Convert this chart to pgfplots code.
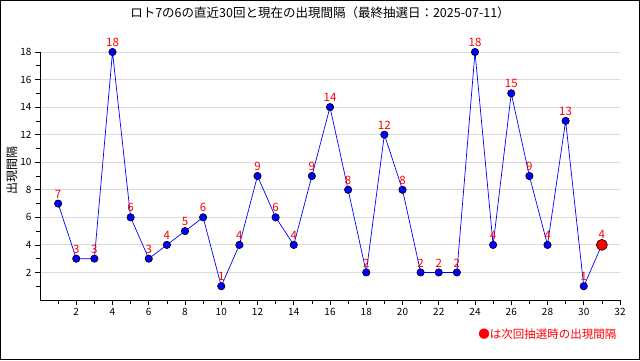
\documentclass[border=0pt]{standalone}
\usepackage{fontspec}
\setmainfont{Noto Sans CJK JP}
\usepackage{pgfplots}
\pgfplotsset{compat=1.18}
\begin{document}
\begin{tikzpicture}[x=1pt,y=1pt]
\useasboundingbox (0,0) rectangle (640,360);
\draw[line width=1pt] (0.5,0.5) rectangle (639.5,359.5);
\node[font=\fontsize{12.5}{14}\selectfont] at (320,347) {ロト7の6の直近30回と現在の出現間隔（最終抽選日：2025-07-11）};
\node[rotate=90,font=\fontsize{12}{13}\selectfont] at (12,190) {出現間隔};
\node[anchor=east,text=red,font=\fontsize{11.5}{13}\selectfont] at (620,26) {●は次回抽選時の出現間隔};
\begin{axis}[
  at={(40pt,60pt)}, anchor=south west,
  scale only axis, width=580pt, height=248pt,
  xmin=0, xmax=32, ymin=0, ymax=18,
  axis lines=left, axis line style={-, black, line width=0.8pt},
  xtick={2,4,...,32}, minor xtick={1,3,...,31},
  ytick={2,4,...,18}, minor ytick={1,3,...,17},
  x tick style={black, line width=0.6pt}, y tick style={black, line width=0.6pt},
  xtick align=outside, ytick align=outside,
  major tick length=5pt, minor tick length=4pt,
  ymajorgrids, major grid style={color=black!14, line width=0.8pt},
  tick label style={font=\fontsize{10}{12}\selectfont},
  /pgf/number format/assume math mode=true,
  clip=false,
]
\addplot[blue, line width=0.7pt, mark=*, mark size=3.7pt,
  mark options={fill=blue, draw=black, line width=0.6pt},
  nodes near coords, point meta=explicit symbolic,
  every node near coord/.style={text=red, font=\fontsize{11.5}{12}\selectfont, anchor=south, inner sep=0pt, yshift=5pt}]
coordinates {
(1,7)[7] (2,3)[3] (3,3)[3] (4,18)[18] (5,6)[6] (6,3)[3] (7,4)[4] (8,5)[5] (9,6)[6] (10,1)[1]
(11,4)[4] (12,9)[9] (13,6)[6] (14,4)[4] (15,9)[9] (16,14)[14] (17,8)[8] (18,2)[2] (19,12)[12] (20,8)[8]
(21,2)[2] (22,2)[2] (23,2)[2] (24,18)[18] (25,4)[4] (26,15)[15] (27,9)[9] (28,4)[4] (29,13)[13] (30,1)[1]
(31,4)[]
};
\addplot[only marks, mark=*, mark size=5.5pt, mark options={fill=red, draw=black, line width=0.6pt},
  nodes near coords, point meta=explicit symbolic,
  every node near coord/.style={text=red, font=\fontsize{11.5}{12}\selectfont, anchor=south, inner sep=0pt, yshift=6pt}]
coordinates {(31,4)[4]};
\end{axis}
\end{tikzpicture}
\end{document}
